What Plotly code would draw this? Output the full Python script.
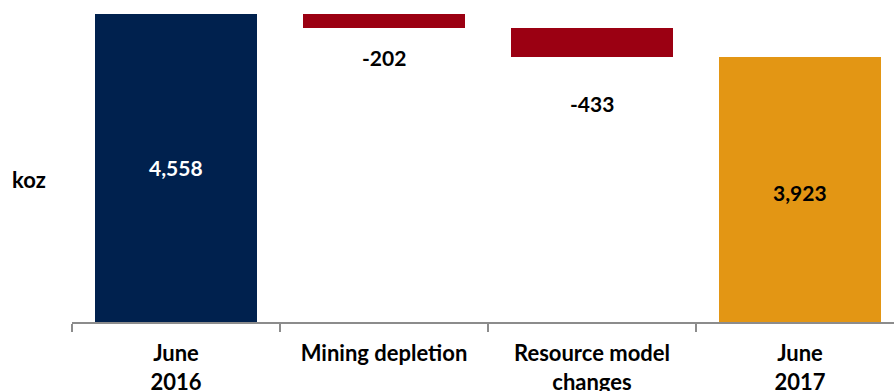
import plotly.graph_objects as go

# Gold reserves bridge, June 2016 -> June 2017 (koz)
categories = ["June<br>2016", "Mining depletion", "Resource model<br>changes", "June<br>2017"]
opening = 4558
changes = [-202, -433]
closing = opening + sum(changes)

labels = ["4,558", "-202", "-433", "3,923"]
colors = ["#00214E", "#9B0012", "#9B0012", "#E39614"]

# Bar heights and bases for the floating waterfall segments
heights = [opening]
bases = [0]
running = opening
for c in changes:
    heights.append(abs(c))
    bases.append(running + c if c < 0 else running)
    running += c
heights.append(closing)
bases.append(0)

FONT = "Lato"

fig = go.Figure()
fig.add_trace(go.Bar(
    x=categories,
    y=heights,
    base=bases,
    marker=dict(color=colors, line=dict(width=0)),
    width=0.775,
    hoverinfo="skip",
))

# Value labels: totals centred inside bars, changes below their segment
fig.add_annotation(x=categories[0], y=heights[0] / 2, text=labels[0], showarrow=False,
                   font=dict(family=FONT, size=21, color="white", weight="bold"))
fig.add_annotation(x=categories[3], y=heights[3] / 2, text=labels[3], showarrow=False,
                   yshift=-3, font=dict(family=FONT, size=21, color="black", weight="bold"))
for i, shift in ((1, -30), (2, -47)):
    fig.add_annotation(x=categories[i], y=bases[i], text=labels[i], showarrow=False,
                       yshift=shift, font=dict(family=FONT, size=21, color="black", weight="bold"))

fig.add_annotation(xref="paper", yref="paper", x=0, y=0.441, xshift=-43, xanchor="center",
                   text="koz", showarrow=False,
                   font=dict(family=FONT, size=22, color="black", weight="bold"))

fig.update_layout(
    width=894, height=391,
    margin=dict(l=72, r=0, t=0, b=69),
    paper_bgcolor="white", plot_bgcolor="white",
    showlegend=False,
    bargap=0,
    xaxis=dict(
        type="category",
        range=[-0.5, 3.452],
        automargin=False,
        tickson="boundaries",
        ticks="outside", ticklen=8, tickcolor="#8C8C8C", tickwidth=2,
        ticklabelstandoff=11,
        showline=True, linecolor="#8C8C8C", linewidth=2,
        showgrid=False,
        tickfont=dict(family=FONT, size=22, color="black", weight="bold"),
    ),
    yaxis=dict(range=[0, 4765], visible=False, showgrid=False, zeroline=False),
)

fig.write_html("out.html")
